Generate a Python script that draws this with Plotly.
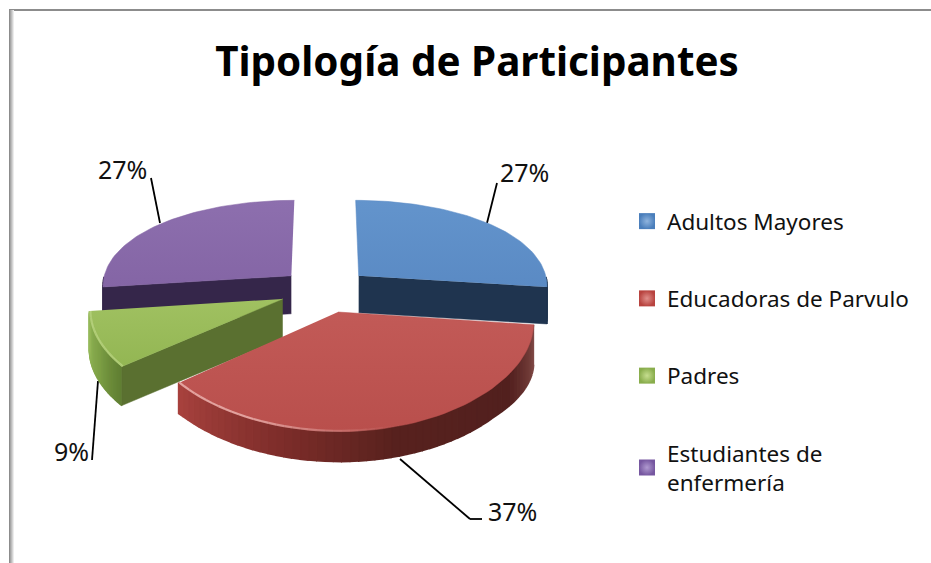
import math
import plotly.graph_objects as go

# data
categories = ["Adultos Mayores", "Educadoras de Parvulo", "Padres", "Estudiantes de<br>enfermería"]
values = [27, 37, 9, 27]

# style
top_colors = [("#5a8ac4", "#6394cc"), ("#b94f4c", "#c25a57"), ("#93b653", "#a0c161"), ("#8465a5", "#8d6fae")]
cut_colors = ["#1f344f", "#5c1f1c", "#5a7030", "#35264a"]
legend_colors = ["#4a7ebb", "#b8433f", "#89ad4c", "#7657a0"]
legend_light = ["#8fb4de", "#e08f8b", "#c6de8f", "#b09ad0"]
rim_stops = [
    [(90, (31, 52, 79)), (270, (31, 52, 79))],
    [(90, (145, 90, 90)), (105, (120, 65, 62)), (125, (82, 32, 30)), (165, (88, 34, 30)),
     (195, (125, 45, 42)), (230, (168, 66, 62)), (270, (168, 66, 62))],
    [(90, (100, 130, 55)), (230, (95, 125, 50)), (245, (125, 160, 70)), (263, (150, 185, 90)), (270, (150, 185, 90))],
    [(90, (53, 38, 74)), (270, (53, 38, 74))],
]
highlight = [None, (240, 190, 186), (190, 215, 135), None]
depth_far = [37, 40, 39, 38]
depth_near = [37, 30, 39, 38]

CX, CY, R, PULL, A, P, PX = 325, 290, 190, 0.24, 92, 0.163, 0.10
FONT = "Noto Sans"


def plane(theta_deg, r, offset_dir):
    t = math.radians(theta_deg)
    o = math.radians(offset_dir)
    return r * math.sin(t) + PULL * math.sin(o), -r * math.cos(t) - PULL * math.cos(o)


def project(theta_deg, r, offset_dir):
    X, Y = plane(theta_deg, r, offset_dir)
    return CX + R * X / (1 - PX * Y), CY + A * Y / (1 - P * Y)


def depth(i, theta_deg, r, offset_dir):
    _, Y = plane(theta_deg, r, offset_dir)
    f = min(1, max(0, (Y - 0.35) / 0.55))
    return depth_far[i] + f * (depth_near[i] - depth_far[i])


def shade(stops, a):
    for (a0, c0), (a1, c1) in zip(stops, stops[1:]):
        if a0 <= a <= a1:
            f = (a - a0) / (a1 - a0) if a1 > a0 else 0
            return "rgb(%d,%d,%d)" % tuple(c0[i] + f * (c1[i] - c0[i]) for i in range(3))
    return "rgb(%d,%d,%d)" % stops[-1][1]


def poly(fig, xs, ys, color=None, gradient=None, lw=0.5):
    kw = dict(fillcolor=color) if color else dict(
        fillgradient=dict(type="vertical", colorscale=[[0, gradient[0]], [1, gradient[1]]]))
    fig.add_trace(go.Scatter(x=xs, y=ys, mode="lines", fill="toself", line=dict(width=lw, color=color or gradient[0]),
                             showlegend=False, hoverinfo="skip", **kw))


fig = go.Figure()
total = sum(values)
bounds = [0]
for v in values:
    bounds.append(bounds[-1] + 360 * v / total)

for i in [3, 0, 2, 1]:
    a0, a1 = bounds[i], bounds[i + 1]
    mid = (a0 + a1) / 2
    n = 60
    angles = [a0 + (a1 - a0) * k / n for k in range(n + 1)]
    apex = project(0, 0, mid)
    apex_d = depth(i, 0, 0, mid)
    rim = [project(a, 1, mid) for a in angles]
    # outer side
    vis = [a for a in angles if 90 <= a <= 270]
    for a, b in zip(vis, vis[1:]):
        pa, pb = project(a, 1, mid), project(b, 1, mid)
        da, db = depth(i, a, 1, mid), depth(i, b, 1, mid)
        poly(fig, [pa[0], pb[0], pb[0], pa[0]], [pa[1], pb[1], pb[1] + db, pa[1] + da],
             color=shade(rim_stops[i], (a + b) / 2), lw=1.6)
    # cut faces
    for edge, shown in ((a0, 180 <= a0 < 360), (a1, 0 < a1 <= 180)):
        if shown:
            p = project(edge, 1, mid)
            d = depth(i, edge, 1, mid)
            poly(fig, [apex[0], p[0], p[0], apex[0]], [apex[1], p[1], p[1] + d, apex[1] + apex_d], color=cut_colors[i])
    # top face
    poly(fig, [apex[0]] + [q[0] for q in rim], [apex[1]] + [q[1] for q in rim], gradient=top_colors[i])
    # bevel highlight on the near edge, fading out towards the dark side
    if highlight[i]:
        hv = [a for a in vis if a > 150]
        for a, b in zip(hv, hv[1:]):
            pa, pb = project(a, 0.995, mid), project(b, 0.995, mid)
            alpha = 0.75 * min(1, max(0, ((a + b) / 2 - 165) / 40))
            c = highlight[i]
            fig.add_trace(go.Scatter(x=[pa[0], pb[0]], y=[pa[1], pb[1]], mode="lines",
                                     line=dict(color=f"rgba({c[0]},{c[1]},{c[2]},{alpha:.2f})", width=2.2),
                                     showlegend=False, hoverinfo="skip"))

# legend entries
for name, col, light in zip(categories, legend_colors, legend_light):
    fig.add_trace(go.Scatter(x=[None], y=[None], mode="markers", name=name, legendgroup=name,
                             marker=dict(symbol="square", size=19, color=col, line=dict(width=0),
                                         gradient=dict(type="radial", color=light))))

# data labels
label_pos = [(524, 172), (512, 511), (71, 451), (122, 169)]
annotations = [dict(x=x, y=y, xref="x", yref="y", text=f"{v}%", showarrow=False,
                    font=dict(family=FONT, size=25, color="#111"))
               for (x, y), v in zip(label_pos, values)]

leaders = [[(497, 183), (487, 223)], [(400, 459), (470, 519), (482, 519)], [(92, 460), (98, 381)], [(151, 178), (160, 223)]]
shapes = []
for pts in leaders:
    for (x0, y0), (x1, y1) in zip(pts, pts[1:]):
        shapes.append(dict(type="line", xref="x", yref="y", x0=x0, y0=y0, x1=x1, y1=y1,
                           line=dict(color="#000", width=1.8), layer="below"))
# chart frame
shapes.append(dict(type="line", xref="x", yref="y", x0=9, y0=10, x1=931, y1=10, line=dict(color="#8c8c8c", width=2)))
for k, c in enumerate(["#8c8c8c", "#a6a6a6", "#bdbdbd", "#d4d4d4", "#ececec"]):
    shapes.append(dict(type="line", xref="x", yref="y", x0=9.5 + k, y0=10, x1=9.5 + k, y1=563, line=dict(color=c, width=1)))

fig.update_layout(
    width=931, height=563, margin=dict(l=0, r=0, t=0, b=0), autosize=False,
    paper_bgcolor="white", plot_bgcolor="white",
    title=dict(text="<b>Tipología de Participantes</b>", x=477 / 931, xanchor="center", y=1 - 62 / 563, yanchor="middle",
               font=dict(family=FONT, size=40.4, color="#000")),
    xaxis=dict(range=[0, 931], visible=False, fixedrange=True),
    yaxis=dict(range=[563, 0], visible=False, fixedrange=True),
    legend=dict(x=627 / 931, y=1 - 200 / 563, xanchor="left", yanchor="top", bgcolor="rgba(0,0,0,0)",
                tracegroupgap=45, font=dict(family=FONT, size=22.5, color="#111"), itemwidth=30),
    annotations=annotations, shapes=shapes,
)
fig.write_html("out.html", config=dict(displayModeBar=False),
               post_script="document.body.style.margin='0';document.body.style.overflow='hidden';")
